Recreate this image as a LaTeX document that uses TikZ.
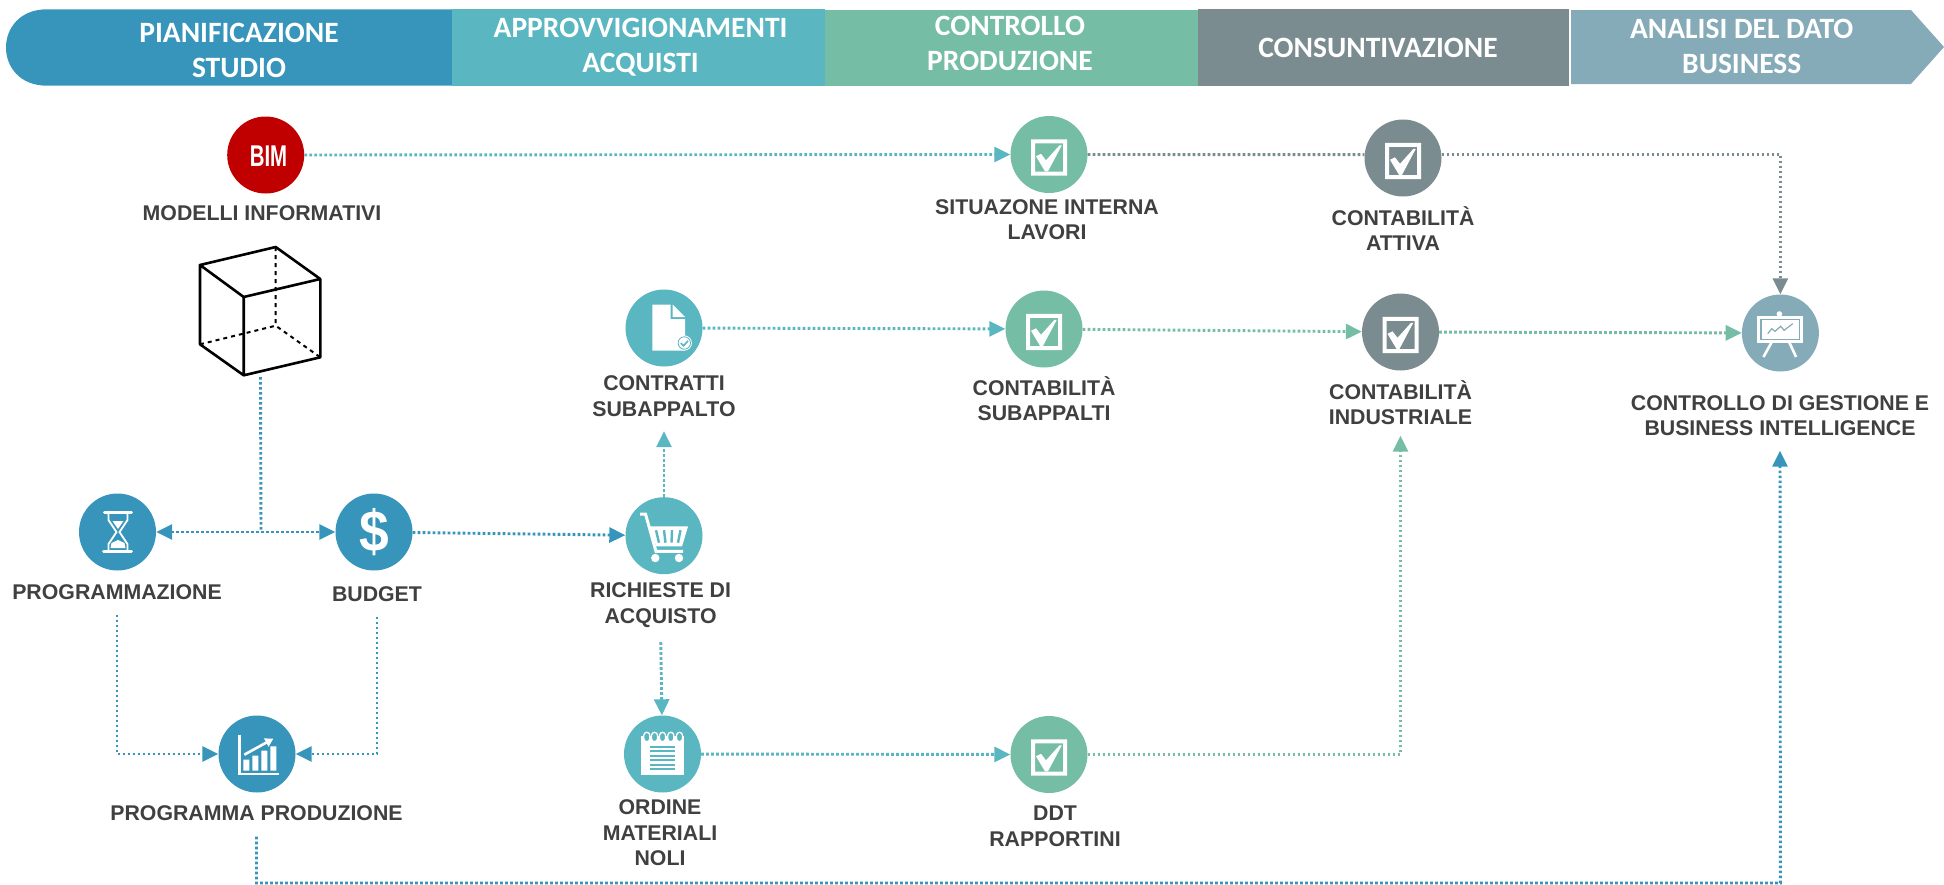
\documentclass[tikz,border=0pt]{standalone}
\usepackage{fontspec}
\setmainfont{Liberation Sans}
\newfontfamily\hdfont{Carlito}
\usetikzlibrary{arrows.meta}
\definecolor{cblue}{HTML}{3795BB}
\definecolor{cteal}{HTML}{5AB6C0}
\definecolor{cgreen}{HTML}{76BDA5}
\definecolor{cgray}{HTML}{7B8C90}
\definecolor{cslate}{HTML}{85ABB8}
\definecolor{cred}{HTML}{C00000}
\definecolor{ctext}{HTML}{404040}
\tikzset{
  x=1pt,y=-1pt,
  disc/.style={circle,minimum size=77pt,inner sep=0pt,fill=#1},
  lab/.style={anchor=north,yshift=10.2pt,inner sep=0pt,align=center,text=ctext,font=\bfseries\fontsize{21.3}{25.5}\selectfont},
  hd/.style={anchor=north,yshift=15pt,inner sep=0pt,align=center,text=white,font=\hdfont\bfseries\fontsize{29.5}{35}\selectfont},
  conn/.style={line width=2.9pt,dash pattern=on 2.6pt off 2.4pt,color=#1},
  endtip/.style={-{Triangle[length=16pt,width=15pt]}},
  bothtip/.style={{Triangle[length=16pt,width=15pt]}-{Triangle[length=16pt,width=15pt]}},
  icw/.style={fill=white,draw=none}
}
\newcommand{\chkicon}[1]{%
  \begin{scope}[shift={(#1)}]
    \fill[white,even odd rule] (-18,-15.2) rectangle (18,21) (-14,-11.2) rectangle (14,17);
    \fill[white] (-13,1.8) -- (-8,-0.7) -- (-3,5.8) -- (10.5,-9.2) -- (12.8,-9.2) -- (-1,16.8) -- (-4,16.8) -- cycle;
  \end{scope}}
\begin{document}
\begin{tikzpicture}
\useasboundingbox (0,0) rectangle (1944,884);
% ribbon
\fill[cblue] (452,9.3) -- (47,9.3) .. controls (20,9.3) and (6,28) .. (6,47.5) .. controls (6,67) and (20,85.7) .. (47,85.7) -- (452,85.7) -- cycle;
\fill[cteal] (452,9) rectangle (825,85.7);
\fill[cgreen] (825,10) rectangle (1198,85.7);
\fill[cgray] (1198,9) rectangle (1569,85.7);
\fill[cslate] (1571,10) -- (1911,10) -- (1944,47) -- (1911,84) -- (1571,84) -- cycle;
\node[hd] (h1) at (239,32.5) {\strut PIANIFICAZIONE\\\strut STUDIO};
\node[hd] (h2) at (640.6,28) {\strut APPROVVIGIONAMENTI\\\strut ACQUISTI};
\node[hd] (h3) at (1010,26) {\strut CONTROLLO\\\strut PRODUZIONE};
\node[hd] (h4) at (1378,47.7) {\strut CONSUNTIVAZIONE};
\node[hd] (h5) at (1741.7,29) {\strut ANALISI DEL DATO\\\strut BUSINESS};
% discs
\node[disc=cred] (bim) at (265.7,155) {};
\node[disc=cgreen] (sit) at (1049,154.5) {};
\node[disc=cgray] (att) at (1403,158) {};
\node[disc=cteal] (con) at (664,328) {};
\node[disc=cgreen] (csub) at (1044,329) {};
\node[disc=cgray] (cind) at (1400.5,332) {};
\node[disc=cslate] (ctrl) at (1780.4,333) {};
\node[disc=cblue] (prog) at (117.5,532) {};
\node[disc=cblue] (bud) at (374,532) {};
\node[disc=cteal] (ric) at (664,535.7) {};
\node[disc=cblue] (pp) at (257,754) {};
\node[disc=cteal] (ord) at (662.5,754) {};
\node[disc=cgreen] (ddt) at (1049,754.5) {};
% labels
\node[lab] (lbim) at (262,212.5) {\strut MODELLI INFORMATIVI};
\node[lab] (lsit) at (1047,206.5) {\strut SITUAZONE INTERNA\\\strut LAVORI};
\node[lab] (latt) at (1403,216.5) {\strut CONTABILITÀ\\\strut ATTIVA};
\node[lab] (lcon) at (664,383) {\strut CONTRATTI\\\strut SUBAPPALTO};
\node[lab] (lcsub) at (1044,386.5) {\strut CONTABILITÀ\\\strut SUBAPPALTI};
\node[lab] (lcind) at (1400.5,390.5) {\strut CONTABILITÀ\\\strut INDUSTRIALE};
\node[lab] (lctrl) at (1780,402.5) {\strut CONTROLLO DI GESTIONE E\\\strut BUSINESS INTELLIGENCE};
\node[lab] (lprog) at (117,592) {\strut PROGRAMMAZIONE};
\node[lab] (lbud) at (377,594) {\strut BUDGET};
\node[lab] (lric) at (660.6,590) {\strut RICHIESTE DI\\\strut ACQUISTO};
\node[lab] (lpp) at (256.5,813) {\strut PROGRAMMA PRODUZIONE};
\node[lab] (lord) at (660,807) {\strut ORDINE\\\strut MATERIALI\\\strut NOLI};
\node[lab] (lddt) at (1055,812.7) {\strut DDT\\\strut RAPPORTINI};
% cube
\draw[line width=2.6pt,line join=round] (200,265) -- (275.7,247) -- (320.3,279) -- (243.7,297) -- cycle
  (200,265) -- (200,344.3) -- (243.7,375.3) -- (320.3,357.3) -- (320.3,279) (243.7,297) -- (243.7,375.3);
\draw[line width=2pt,dash pattern=on 4pt off 4pt] (275.7,247) -- (275.7,325.7) (200,344.3) -- (275.7,325.7) -- (320.3,357.3);
\coordinate (cubeb) at (260.5,377);
\coordinate (junc) at (261,532);
\coordinate (rowb) at (257,883);
% connectors
\draw[conn=cteal,endtip] (bim) -- (sit);
\draw[conn=cgray] (sit) -- (att.175);
\draw[conn=cgray,endtip] (att.5) -| (ctrl);
\draw[conn=cteal,endtip] (con) -- (csub);
\draw[conn=cgreen,endtip] (csub) -- (cind);
\draw[conn=cgreen,endtip] (cind) -- (ctrl);
\draw[conn=cteal,endtip,shorten >=7pt] (ric) -- (lcon.south -| ric);
\draw[conn=cteal,endtip,shorten <=11pt] (lric.south) -- (ord);
\draw[conn=cblue,bothtip] (prog) -- (bud);
\draw[conn=cblue] (cubeb) -- (junc);
\draw[conn=cblue,endtip] (bud) -- (ric);
\draw[conn=cblue,endtip,shorten <=7pt] (lprog.south) |- (pp);
\draw[conn=cblue,endtip,shorten <=7pt] (lbud.south) |- (pp);
\draw[conn=cteal,endtip] (ord) -- (ddt);
\draw[conn=cgreen,endtip,shorten >=3pt] (ddt) -| (lcind.south);
\draw[conn=cblue,endtip,shorten <=8pt,shorten >=7pt] (lpp.south) |- (rowb -| ctrl) -- (lctrl.south);
% icons
\node[inner sep=0pt,text=white,font=\bfseries\fontsize{30}{30}\selectfont] (ibim) at (268.5,156) {\scalebox{0.68}[1]{BIM}};
\chkicon{sit}\chkicon{att}\chkicon{csub}\chkicon{cind}\chkicon{ddt}
\node[inner sep=0pt,text=white,font=\bfseries\fontsize{58}{58}\selectfont] (ibud) at (374.3,532) {\scalebox{0.92}[1]{\$}};
% hourglass
\begin{scope}[shift={(prog)}]
  \draw[white,line width=3pt,line cap=round] (-13,-20) -- (14,-20) (-14,19) -- (14,19);
  \draw[white,line width=1.8pt] (-9,-18) -- (-9,-12) -- (-1,0) -- (-9,12) -- (-9,18) (10,-18) -- (10,-12) -- (2,0) -- (10,12) -- (10,18);
  \fill[white] (-5,-11) -- (6,-11) -- (0.5,-3) -- cycle;
  \fill[white] (-7,16) -- (-6,11) -- (0.5,8) -- (7,11) -- (8,16) -- cycle;
\end{scope}
% document
\begin{scope}[shift={(con)}]
  \fill[white] (-11.7,-23.3) -- (6.5,-23.3) -- (6.5,-9) -- (21,-9) -- (21,22.7) -- (-11.7,22.7) -- cycle;
  \fill[white] (8.7,-23.3) -- (21,-11) -- (8.7,-11) -- cycle;
  \fill[white] (20.3,15) circle (7.6);
  \draw[cteal,line width=0.8pt] (20.3,15) circle (6.2);
  \draw[cteal,line width=1.6pt] (16.8,15) -- (19.5,17.8) -- (24,12.8);
\end{scope}
% cart
\begin{scope}[shift={(ric)}]
  \draw[white,line width=3pt] (-24,-21.7) -- (-18.5,-21.7) -- (-8,15.7) -- (19,15.7);
  \fill[white] (-14.3,-9.3) -- (24,-9.3) -- (18,10.7) -- (-7.7,10.7) -- cycle;
  \draw[cteal,line width=2.4pt] (-8,-5.5) -- (-5,7) (0,-5.5) -- (1.5,7) (8,-5.5) -- (7.5,7) (16.5,-5.5) -- (14,7);
  \fill[white] (-8.7,22.3) circle (4.2) (15,22.3) circle (4.2);
\end{scope}
% notepad
\begin{scope}[shift={(ord)}]
  \fill[white] (-21.3,-18) rectangle (21.7,21);
  \foreach \xx in {-15.7,-8,0,8.3,17}
    \draw[white,fill=cteal,line width=1.3pt,rounded corners=3pt] (\xx-3,-21.7) rectangle (\xx+3,-12.3);
  \foreach \yy in {-7.3,-2.8,1.7,6.2,10.7,15.3}
    \draw[cteal,line width=2.2pt] (-12.3,\yy) -- (12.7,\yy);
\end{scope}
% chart
\begin{scope}[shift={(pp)}]
  \draw[white,line width=2.4pt] (-17.7,-19.3) -- (-17.7,19.7) -- (22.3,19.7);
  \fill[white] (-13.7,5.7) rectangle (-7.7,16.7) (-4.7,1.7) rectangle (1.3,16.7) (4.3,-3.3) rectangle (10.3,16.7) (13.3,-7.7) rectangle (19.3,16.7);
  \draw[white,line width=2.6pt,-{Triangle[length=8pt,width=9pt]}] (-12.7,0.7) -- (16.3,-15.3);
\end{scope}
% presentation
\begin{scope}[shift={(ctrl)}]
  \fill[white] (-1,-19) circle (2.8);
  \fill[white] (-23,-17) rectangle (22.3,9.7);
  \draw[cslate,line width=1.4pt] (-19.5,-13.5) rectangle (18.8,6.2);
  \draw[cslate,line width=1.2pt] (-12.7,0.7) -- (-8.7,-4.3) -- (-5.3,-1.7) -- (0.3,-6.7) -- (3.7,-2.7) -- (12.3,-9.3);
  \draw[white,line width=2.6pt] (-9,9.7) -- (-17,24) (9,9.7) -- (15.7,24);
\end{scope}
\end{tikzpicture}
\end{document}
